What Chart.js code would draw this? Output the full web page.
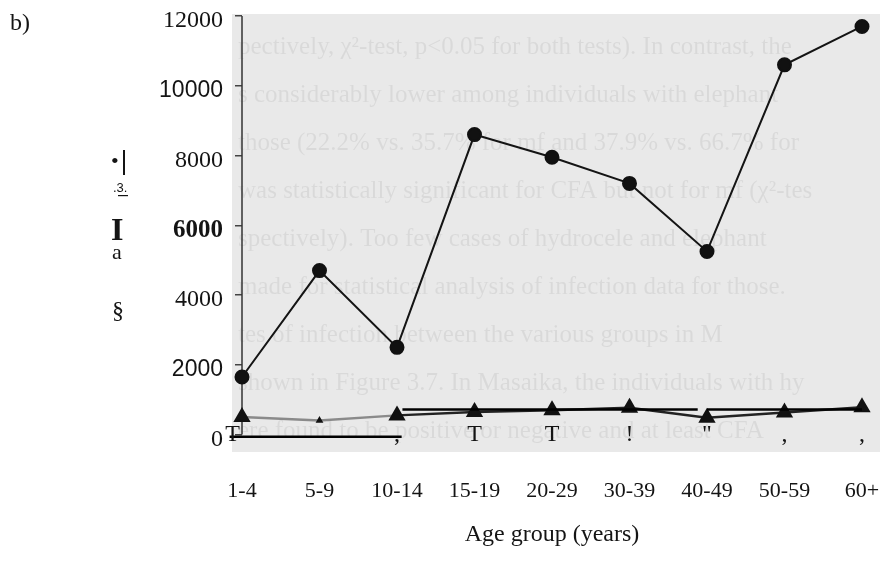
<!DOCTYPE html>
<html lang="en">
<head>
    <meta charset="UTF-8">
    <title>Age group chart</title>
    <script src="https://cdn.jsdelivr.net/npm/chart.js"></script>
    <style>
        html, body { margin: 0; padding: 0; background: #fff; }
        #wrap { width: 888px; height: 565px; position: relative; }
    </style>
</head>
<body>
    <div id="wrap"><canvas id="chart"></canvas></div>

    <script>
        // values
        const ageGroups = ['1-4', '5-9', '10-14', '15-19', '20-29', '30-39', '40-49', '50-59', '60+'];
        const circleSeries = [1650, 4700, 2500, 8600, 7950, 7200, 5250, 10600, 11700];
        const triangleSeries = [500, 400, 550, 650, 700, 770, 480, 630, 780];
        const yTicks = [0, 2000, 4000, 6000, 8000, 10000, 12000];
        // garbled tick marks under the x axis (OCR leftovers)
        const xMarks = ['T', '', ',', 'T', 'T', '!', '"', ',', ','];
        // faint page text showing through the plot
        const pageText = [
            'pectively, \u03c7\u00b2-test, p<0.05 for both tests). In contrast, the',
            's considerably lower among individuals with elephant',
            'those (22.2% vs. 35.7% for mf and 37.9% vs. 66.7% for',
            'was statistically significant for CFA but not for mf (\u03c7\u00b2-tes',
            'spectively). Too few cases of hydrocele and elephant',
            'made for statistical analysis of infection data for those.',
            'tes of infection between the various groups in M',
            'shown in Figure 3.7. In Masaika, the individuals with hy',
            'ere found to be positive or negative and at least CFA'
        ];

        const serif = "'Liberation Serif', 'Times New Roman', serif";
        const sans = "'Liberation Sans', Arial, sans-serif";
        const ink = '#141414';

        const scanPlugin = {
            id: 'scan',
            beforeDraw(chart) {
                const { ctx, chartArea } = chart;
                ctx.save();
                ctx.fillStyle = '#fff';
                ctx.fillRect(0, 0, chart.width, chart.height);
                // grey paper of the scanned plot
                const bx = chartArea.left - 10, by = chartArea.top - 2;
                const bw = chartArea.right + 18 - bx, bh = chartArea.bottom - by;
                ctx.fillStyle = '#e9e9e9';
                ctx.fillRect(bx, by, bw, bh);
                ctx.beginPath();
                ctx.rect(bx, by, bw, bh);
                ctx.clip();
                ctx.fillStyle = 'rgba(0,0,0,0.065)';
                ctx.font = '25px ' + serif;
                ctx.textBaseline = 'middle';
                pageText.forEach((line, i) => {
                    ctx.fillText(line, bx + 6, by + 33 + i * 48, bw - 4);
                });
                ctx.restore();
            },
            beforeDatasetsDraw(chart) {
                const { ctx } = chart;
                const x = chart.scales.x, y = chart.scales.y;
                ctx.save();
                ctx.strokeStyle = '#333';
                ctx.lineWidth = 1.5;
                ctx.beginPath();
                ctx.moveTo(x.getPixelForValue(0), y.getPixelForValue(12000));
                ctx.lineTo(x.getPixelForValue(0), y.getPixelForValue(0));
                ctx.stroke();
                ctx.restore();
            },
            afterDraw(chart) {
                const { ctx } = chart;
                const x = chart.scales.x, y = chart.scales.y;
                ctx.save();
                // OCR underline artefacts
                ctx.strokeStyle = '#000';
                ctx.lineWidth = 2.5;
                const seg = (a, b, v) => {
                    ctx.beginPath();
                    ctx.moveTo(x.getPixelForValue(a), y.getPixelForValue(v));
                    ctx.lineTo(x.getPixelForValue(b), y.getPixelForValue(v));
                    ctx.stroke();
                };
                seg(2.07, 5.88, 720);
                seg(6.0, 8.0, 720);
                seg(-0.16, 2.06, -60);

                ctx.fillStyle = ink;
                ctx.font = '24px ' + serif;
                ctx.textAlign = 'center';
                ctx.textBaseline = 'alphabetic';
                xMarks.forEach((m, i) => {
                    const px = x.getPixelForValue(i === 0 ? -0.12 : i);
                    ctx.fillText(m, px, y.getPixelForValue(0) + 6);
                });

                // left side: panel letter and garbled axis title
                ctx.textAlign = 'left';
                ctx.font = '24px ' + serif;
                ctx.fillText('b)', 10, 30);
                ctx.font = '22px ' + serif;
                ctx.fillText('\u2022', 111, 168);
                ctx.fillRect(123, 150, 2, 25);
                ctx.font = '13px ' + sans;
                ctx.fillText('.3.', 113, 192);
                ctx.fillRect(118, 195, 10, 1.2);
                ctx.font = 'bold 32px ' + serif;
                ctx.fillText('I', 111, 240);
                ctx.font = '22px ' + serif;
                ctx.fillText('a', 112, 259);
                ctx.font = '24px ' + serif;
                ctx.fillText('\u00a7', 112, 318);
                ctx.restore();
            }
        };

        const ctx = document.getElementById('chart').getContext('2d');
        new Chart(ctx, {
            type: 'line',
            data: {
                labels: ageGroups,
                datasets: [
                    {
                        label: 'circles',
                        data: circleSeries,
                        borderColor: ink,
                        borderWidth: 2,
                        backgroundColor: ink,
                        pointBackgroundColor: '#111',
                        pointBorderColor: '#111',
                        pointRadius: 6.5,
                        pointStyle: 'circle',
                        tension: 0,
                        clip: false
                    },
                    {
                        label: 'triangles',
                        data: triangleSeries,
                        borderColor: '#222',
                        borderWidth: 2.5,
                        backgroundColor: '#111',
                        pointBackgroundColor: '#111',
                        pointBorderColor: '#111',
                        pointStyle: 'triangle',
                        pointRadius: c => c.dataIndex === 1 ? 2 : 7.5,
                        segment: {
                            borderColor: c => c.p0DataIndex < 2 ? '#8a8a8a' : '#222'
                        },
                        tension: 0,
                        clip: false
                    }
                ]
            },
            options: {
                responsive: true,
                maintainAspectRatio: false,
                animation: false,
                layout: { padding: { left: 0, right: 26, top: 16, bottom: 0 } },
                plugins: {
                    legend: { display: false },
                    tooltip: { enabled: false }
                },
                scales: {
                    x: {
                        type: 'category',
                        offset: false,
                        grid: { display: false },
                        border: { display: false },
                        ticks: {
                            color: ink,
                            font: { family: serif, size: 22 },
                            padding: 18,
                            maxRotation: 0,
                            autoSkip: false
                        },
                        title: {
                            display: true,
                            text: 'Age group (years)',
                            color: ink,
                            font: { family: serif, size: 24 },
                            padding: { top: 0, bottom: 16 }
                        },
                        afterFit: s => { s.height = 113; s.paddingLeft = 0; s.paddingRight = 0; }
                    },
                    y: {
                        min: -500,
                        max: 12000,
                        grid: {
                            drawOnChartArea: false,
                            drawTicks: true,
                            tickLength: 7,
                            color: '#444',
                            lineWidth: 1.5
                        },
                        border: { display: false },
                        afterBuildTicks: s => { s.ticks = yTicks.map(v => ({ value: v })); },
                        ticks: {
                            color: ink,
                            padding: 12,
                            labelOffset: 5,
                            callback: v => String(v),
                            font: c => {
                                const v = c.tick ? c.tick.value : 0;
                                if (v === 10000 || v === 2000) return { family: sans, size: 23 };
                                if (v === 6000) return { family: serif, size: 25, weight: 'bold' };
                                return { family: serif, size: 24 };
                            }
                        },
                        afterFit: s => { s.width = 242; s.paddingTop = 0; s.paddingBottom = 0; }
                    }
                }
            },
            plugins: [scanPlugin]
        });
    </script>
</body>
</html>
